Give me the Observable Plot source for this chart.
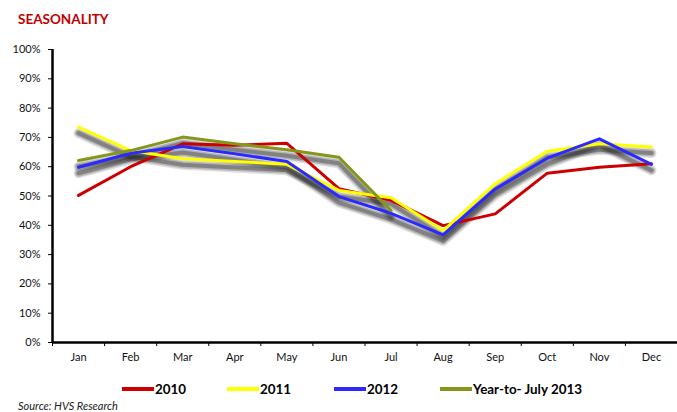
<!DOCTYPE html>
<html><head><meta charset="utf-8">
<script src="https://cdn.jsdelivr.net/npm/d3@7"></script>
<script src="https://cdn.jsdelivr.net/npm/@observablehq/plot@0.6"></script>
<style>
body{margin:0;background:#fff;font-family:Lato,"Open Sans",sans-serif;}
#wrap{position:relative;width:677px;height:412px;overflow:hidden;background:#fff}
#title{position:absolute;left:18px;top:11px;font-weight:bold;font-size:13.5px;color:#c00000;line-height:16px}
#chart{position:absolute;left:0;top:36px}
#legend{position:absolute;top:381px;left:0;width:677px;height:16px}
.item{position:absolute;top:0;height:16px;display:flex;align-items:center;font-weight:bold;font-size:13.4px;color:#000}
.sw{width:32px;height:4px;margin-right:1px}
#source{position:absolute;left:18px;top:399px;font-style:italic;font-size:11px;color:#222;line-height:14px}
</style>
</head><body>
<div id="wrap">
  <div id="title"></div>
  <div id="chart"></div>
  <div id="legend"></div>
  <div id="source"></div>
</div>
<script>
const titleText = "SEASONALITY";
const sourceText = "Source: HVS Research";
const months = ["Jan","Feb","Mar","Apr","May","Jun","Jul","Aug","Sep","Oct","Nov","Dec"];
const seriesNames = ["2010","2011","2012","Year-to- July 2013"];
const colors = ["#cc0000","#ffff00","#2a2aff","#86961c"];
const s2010 = [50.2, 60.0, 67.8, 67.3, 68.0, 52.5, 48.5, 39.9, 43.9, 57.8, 59.8, 61.0];
const s2011 = [73.5, 65.5, 62.7, 61.8, 60.8, 51.9, 49.4, 38.2, 54.2, 65.3, 67.8, 66.7];
const s2012 = [59.8, 64.6, 66.9, 64.4, 61.8, 49.8, 44.1, 36.7, 52.4, 62.9, 69.5, 60.8];
const s2013 = [62.1, 65.5, 70.1, 67.8, 65.8, 63.2, 45.0, null, null, null, null, null];
const seriesValues = [s2010, s2011, s2012, s2013];
const shadowed = ["2011", "2012", "Year-to- July 2013"];
const yTicks = [0,10,20,30,40,50,60,70,80,90,100];
const legendLeft = [122, 227, 334, 440];

document.getElementById("title").textContent = titleText;
document.getElementById("source").textContent = sourceText;

const table = [];
seriesNames.forEach((name, k) => seriesValues[k].forEach((v, i) => {
  if (v != null) table.push({series: name, month: i, value: v});
}));
const shadowTable = table.filter(d => shadowed.includes(d.series));

// layered translucent strokes give a soft grey drop shadow
const shadowLayers = [
  {w: 10, o: 0.15},
  {w: 7, o: 0.22},
  {w: 4, o: 0.34}
];

const chart = Plot.plot({
  width: 677, height: 334,
  marginLeft: 52, marginRight: 0, marginTop: 13, marginBottom: 28,
  style: {fontFamily: "Lato, 'Open Sans', sans-serif", fontSize: "11px", color: "#111", background: "#fff"},
  x: {type: "linear", domain: [-0.5, 11.5], axis: null},
  y: {domain: [0, 100], axis: null},
  color: {domain: seriesNames, range: colors},
  marks: [
    ...shadowLayers.map(l => Plot.lineY(shadowTable, {x: "month", y: "value", z: "series", stroke: "#222", strokeOpacity: l.o, strokeWidth: l.w, dy: 6})),
    Plot.lineY(table, {x: "month", y: "value", z: "series", stroke: "series", strokeWidth: 3}),
    Plot.axisY({ticks: yTicks, tickFormat: d => d + "%", tickSize: 4, tickPadding: 8, stroke: "#000", label: null}),
    Plot.axisX({ticks: d3.range(-0.5, 12, 1), tickFormat: () => "", tickSize: 4, stroke: "#000", label: null}),
    Plot.axisX({ticks: d3.range(12), tickFormat: i => months[i], tickSize: 0, tickPadding: 11, label: null}),
    Plot.ruleX([-0.5], {stroke: "#000", strokeWidth: 2.5}),
    Plot.ruleY([0], {stroke: "#000", strokeWidth: 2.5})
  ]
});
document.getElementById("chart").appendChild(chart);

const legend = document.getElementById("legend");
seriesNames.forEach((name, k) => {
  const item = document.createElement("div");
  item.className = "item";
  item.style.left = legendLeft[k] + "px";
  const sw = document.createElement("span");
  sw.className = "sw";
  sw.style.background = colors[k];
  const lab = document.createElement("span");
  lab.textContent = name;
  item.appendChild(sw);
  item.appendChild(lab);
  legend.appendChild(item);
});
</script>
</body></html>
